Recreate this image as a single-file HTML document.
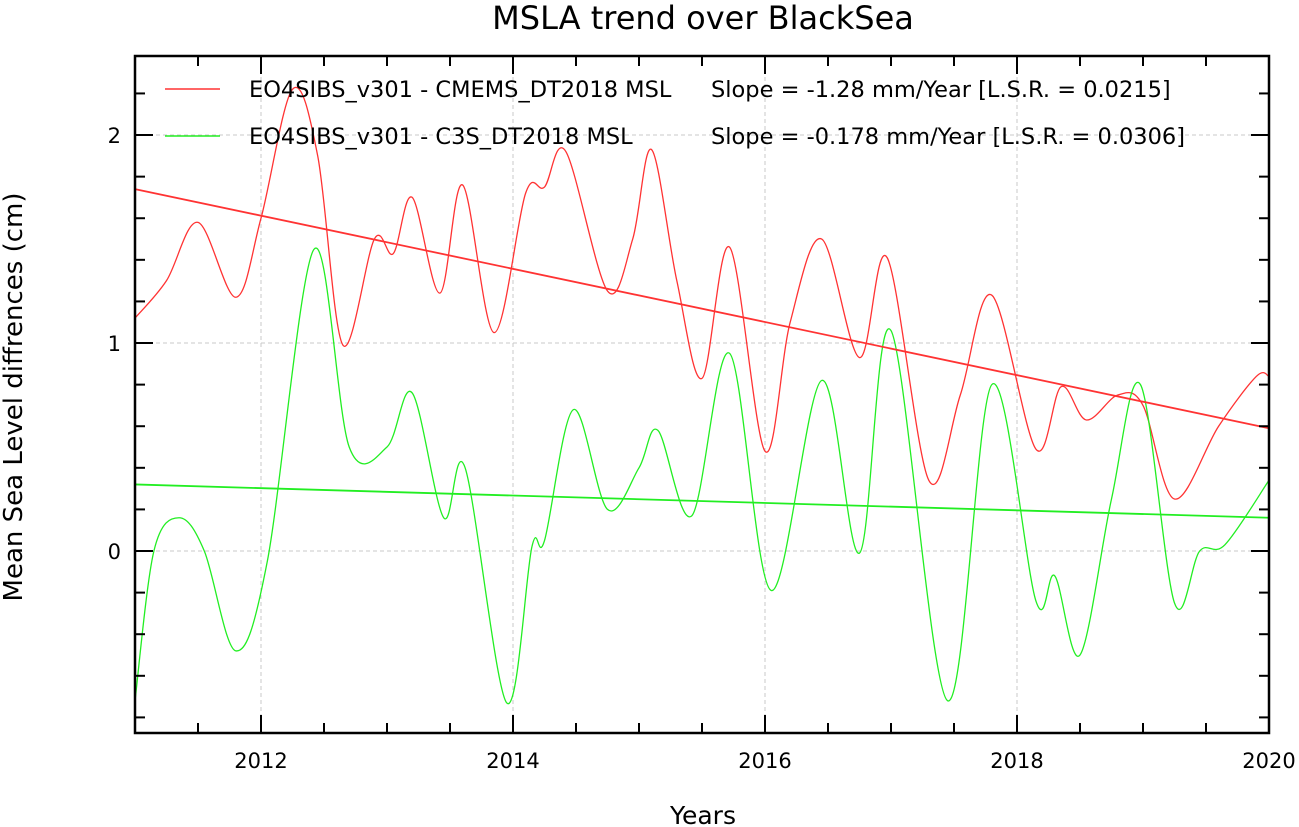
<!DOCTYPE html>
<html><head><meta charset="utf-8"><style>
body{margin:0;background:#fff;}
svg{display:block;font-family:"DejaVu Sans","Liberation Sans",sans-serif;}
</style></head><body>
<svg id="chart" width="1299" height="827" viewBox="0 0 1299 827" xmlns="http://www.w3.org/2000/svg">
<text x="703" y="29" font-size="32" text-anchor="middle" fill="#000">MSLA trend over BlackSea</text>
<text x="703" y="824" font-size="25" text-anchor="middle">Years</text>
<text transform="translate(22,397) rotate(-90)" font-size="26" text-anchor="middle">Mean Sea Level diffrences (cm)</text>
<g id="grid"></g>
<g id="series"></g>
<g id="axes"></g>
<g id="legend">
<line x1="165" y1="89" x2="220" y2="89" stroke="#ff3333" stroke-width="1.5"/>
<text x="249" y="97" font-size="22.5">EO4SIBS_v301 - CMEMS_DT2018 MSL</text>
<text x="711" y="97" font-size="22.5">Slope = -1.28 mm/Year [L.S.R. = 0.0215]</text>
<line x1="165" y1="136" x2="220" y2="136" stroke="#22ee22" stroke-width="1.5"/>
<text x="249" y="144" font-size="22.5">EO4SIBS_v301 - C3S_DT2018 MSL</text>
<text x="711" y="144" font-size="22.5">Slope = -0.178 mm/Year [L.S.R. = 0.0306]</text>
</g>
</svg>
<script>
const redX=[2011.0,2011.25,2011.5,2011.8,2012.0,2012.25,2012.45,2012.65,2012.9,2013.05,2013.2,2013.42,2013.6,2013.85,2014.1,2014.25,2014.42,2014.75,2014.95,2015.1,2015.3,2015.5,2015.72,2016.0,2016.2,2016.45,2016.75,2016.97,2017.3,2017.55,2017.8,2018.15,2018.35,2018.55,2018.8,2019.0,2019.25,2019.6,2019.9,2020.0];
const redY=[1.12,1.3,1.58,1.22,1.6,2.22,1.9,0.99,1.5,1.43,1.7,1.24,1.76,1.05,1.72,1.75,1.92,1.25,1.5,1.93,1.3,0.83,1.46,0.48,1.1,1.5,0.93,1.41,0.34,0.75,1.23,0.49,0.79,0.63,0.75,0.7,0.25,0.6,0.84,0.84];
const greenX=[2011.0,2011.15,2011.35,2011.55,2011.8,2012.05,2012.42,2012.7,2013.0,2013.2,2013.45,2013.62,2013.95,2014.15,2014.25,2014.48,2014.75,2015.0,2015.15,2015.42,2015.72,2016.05,2016.45,2016.75,2017.0,2017.45,2017.8,2018.15,2018.3,2018.5,2018.75,2018.98,2019.25,2019.45,2019.65,2020.0];
const greenY=[-0.72,0.0,0.16,0.0,-0.48,-0.05,1.45,0.5,0.5,0.76,0.16,0.4,-0.73,0.02,0.05,0.68,0.2,0.4,0.58,0.17,0.95,-0.19,0.82,-0.01,1.06,-0.72,0.8,-0.24,-0.12,-0.5,0.25,0.8,-0.25,0.0,0.03,0.34];
const trendX=[2011,2020];
const redTrend=[1.74,0.59];
const greenTrend=[0.32,0.16];
const xTicks=[2012,2014,2016,2018,2020];
const yTicks=[0,1,2];

const L=135,R=1269,T=56,B=733;
const X0=2011,X1=2020,Y0=-0.875,Y1=2.38;
const sx=v=>L+(v-X0)/(X1-X0)*(R-L);
const sy=v=>B-(v-Y0)/(Y1-Y0)*(B-T);
const NS="http://www.w3.org/2000/svg";
function mk(tag,attrs,parent){const e=document.createElementNS(NS,tag);for(const k in attrs)e.setAttribute(k,attrs[k]);parent.appendChild(e);return e;}
const grid=document.getElementById('grid'),series=document.getElementById('series'),axes=document.getElementById('axes');

xTicks.forEach(t=>{const g=mk('line',{x1:sx(t),x2:sx(t),y1:T,y2:B,stroke:'#c8c8c8','stroke-dasharray':'4,3','stroke-width':1},grid);

});
yTicks.forEach(t=>{const g=mk('line',{x1:L,x2:R,y1:sy(t),y2:sy(t),stroke:'#c8c8c8','stroke-dasharray':'4,3','stroke-width':1},grid);

});

function smooth(xs,ys){
  const p=xs.map((x,i)=>[sx(x),sy(ys[i])]);
  let d='M'+p[0][0]+','+p[0][1];
  for(let i=0;i<p.length-1;i++){
    const p0=p[Math.max(0,i-1)],p1=p[i],p2=p[i+1],p3=p[Math.min(p.length-1,i+2)];
    const c1=[p1[0]+(p2[0]-p0[0])/6,p1[1]+(p2[1]-p0[1])/6];
    const c2=[p2[0]-(p3[0]-p1[0])/6,p2[1]-(p3[1]-p1[1])/6];
    d+=' C'+c1+' '+c2+' '+p2;
  }
  return d;
}
const rl=mk('path',{d:smooth(redX,redY),fill:'none',stroke:'#ff3333','stroke-width':1.3},series);


const gl=mk('path',{d:smooth(greenX,greenY),fill:'none',stroke:'#22ee22','stroke-width':1.3},series);


const rt=mk('line',{x1:sx(trendX[0]),y1:sy(redTrend[0]),x2:sx(trendX[1]),y2:sy(redTrend[1]),stroke:'#ff3333','stroke-width':1.8},series);


const gt=mk('line',{x1:sx(trendX[0]),y1:sy(greenTrend[0]),x2:sx(trendX[1]),y2:sy(greenTrend[1]),stroke:'#22ee22','stroke-width':1.8},series);



const fr=mk('rect',{x:L,y:T,width:R-L,height:B-T,fill:'none',stroke:'#000','stroke-width':2.5},axes);


for(let v=X0;v<=X1+1e-6;v+=0.5){
  const major=xTicks.some(t=>Math.abs(t-v)<1e-6);const len=major?18:10;
  mk('line',{x1:sx(v),x2:sx(v),y1:B,y2:B-len,stroke:'#000','stroke-width':2},axes);
  mk('line',{x1:sx(v),x2:sx(v),y1:T,y2:T+len,stroke:'#000','stroke-width':2},axes);
}
for(let i=-4;i<=11;i++){const v=i*0.2;if(v<Y0||v>Y1)continue;
  const major=yTicks.some(t=>Math.abs(t-v)<1e-6);const len=major?18:10;
  mk('line',{x1:L,x2:L+len,y1:sy(v),y2:sy(v),stroke:'#000','stroke-width':2},axes);
  mk('line',{x1:R,x2:R-len,y1:sy(v),y2:sy(v),stroke:'#000','stroke-width':2},axes);
}
xTicks.forEach(t=>{const e=mk('text',{x:sx(t),y:B+35,'font-size':21,'text-anchor':'middle'},axes);e.textContent=t;

});
yTicks.forEach(t=>{const e=mk('text',{x:L-14,y:sy(t)+8,'font-size':21,'text-anchor':'end'},axes);e.textContent=t;

});
</script>
</body></html>
